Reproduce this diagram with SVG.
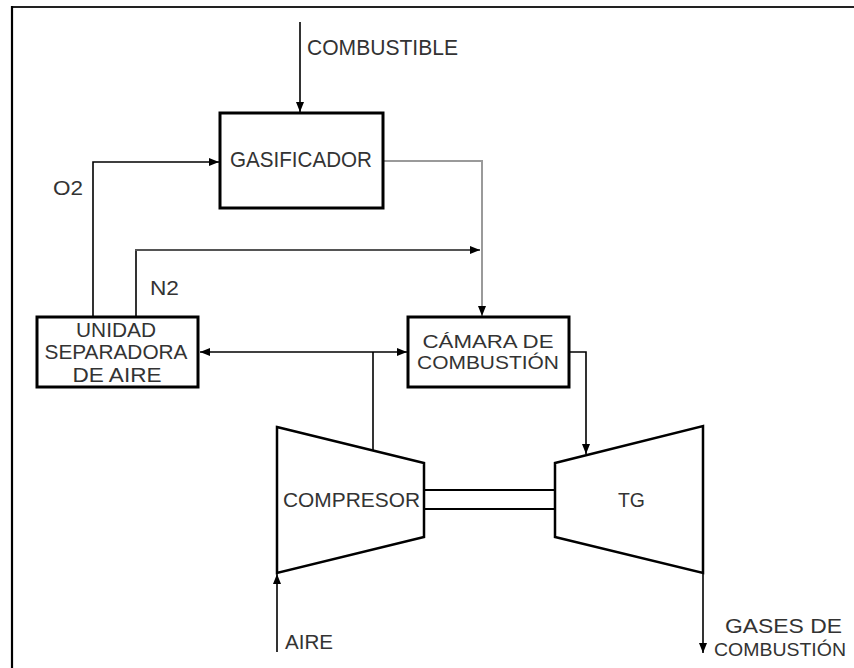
<svg xmlns="http://www.w3.org/2000/svg" width="854" height="668" viewBox="0 0 854 668">
<defs>
<marker id="ah" viewBox="0 0 10 8" refX="10" refY="4" markerWidth="10" markerHeight="8" markerUnits="userSpaceOnUse" orient="auto">
<path d="M0,0 L10,4 L0,8 Z" fill="#000"/>
</marker>
</defs>
<style>
.box{fill:#fff;stroke:#000;stroke-width:3}
.mach{fill:#fff;stroke:#000;stroke-width:2.5;stroke-linejoin:miter}
.ln{fill:none;stroke:#000;stroke-width:1.6}
.gr{fill:none;stroke:#9a9a9a;stroke-width:2}
.dg{fill:none;stroke:#555;stroke-width:1.8}
.t{font-family:"Liberation Sans",Arial,sans-serif;font-size:21px;fill:#333}
.tc{font-family:"Liberation Sans",Arial,sans-serif;font-size:21px;fill:#333;text-anchor:middle}
.big{font-size:22px}
.sm{font-size:19px}
</style>
<rect width="854" height="668" fill="#fff"/>
<g id="frame">
<line x1="11" y1="7" x2="854" y2="7" stroke="#222" stroke-width="2.2"/>
<line x1="12" y1="6" x2="12" y2="668" stroke="#000" stroke-width="2.2"/>
</g>
<g id="connectors">
<line class="ln" x1="300" y1="22" x2="300" y2="112" marker-end="url(#ah)"/>
<polyline class="ln" points="93,316 93,162 219,162" marker-end="url(#ah)"/>
<line class="ln" x1="136" y1="316" x2="136" y2="250"/>
<polyline class="dg" points="135,250 480,250" marker-end="url(#ah)"/>
<polyline class="gr" points="384,161 482,161 482,250"/>
<line x1="482" y1="250" x2="482" y2="316" stroke="#9a9a9a" stroke-width="2" marker-end="url(#ah)"/>
<line class="ln" x1="373" y1="451" x2="373" y2="352"/>
<line class="ln" x1="373" y1="352" x2="200" y2="352" marker-end="url(#ah)"/>
<line class="ln" x1="373" y1="352" x2="407" y2="352" marker-end="url(#ah)"/>
<polyline class="ln" points="570,352 586,352 586,454" marker-end="url(#ah)"/>
<line class="ln" x1="277" y1="652" x2="277" y2="574" marker-end="url(#ah)"/>
<line class="ln" x1="703" y1="573" x2="703" y2="653" marker-end="url(#ah)"/>
<line x1="424" y1="490" x2="555" y2="490" stroke="#000" stroke-width="2.2"/>
<line x1="424" y1="509" x2="555" y2="509" stroke="#000" stroke-width="2.2"/>
</g>
<g id="gasificador">
<rect class="box" x="220" y="113" width="163" height="95"/>
<text class="t big" x="230" y="167" textLength="142" lengthAdjust="spacingAndGlyphs">GASIFICADOR</text>
</g>
<g id="unidad">
<rect class="box" x="37" y="317" width="161" height="70"/>
<text class="tc" x="116" y="337" textLength="80" lengthAdjust="spacingAndGlyphs">UNIDAD</text>
<text class="tc" x="116" y="359" textLength="143" lengthAdjust="spacingAndGlyphs">SEPARADORA</text>
<text class="tc" x="117" y="382" textLength="89" lengthAdjust="spacingAndGlyphs">DE  AIRE</text>
</g>
<g id="camara">
<rect class="box" x="408" y="317" width="161" height="70"/>
<text class="tc sm" x="488" y="348" textLength="131" lengthAdjust="spacingAndGlyphs">CÁMARA  DE</text>
<text class="tc sm" x="488" y="369" textLength="142" lengthAdjust="spacingAndGlyphs">COMBUSTIÓN</text>
</g>
<g id="compresor">
<polygon class="mach" points="277,427 424,463 424,537 277,573"/>
<text class="t" x="283" y="507" textLength="137" lengthAdjust="spacingAndGlyphs">COMPRESOR</text>
</g>
<g id="tg">
<polygon class="mach" points="555,463 703,426 703,573 555,537"/>
<text class="t" x="618" y="507" textLength="27" lengthAdjust="spacingAndGlyphs">TG</text>
</g>
<g id="labels">
<text class="t big" x="307" y="55" textLength="151" lengthAdjust="spacingAndGlyphs">COMBUSTIBLE</text>
<text class="t" x="53" y="195" textLength="30" lengthAdjust="spacingAndGlyphs">O2</text>
<text class="t" x="150" y="295" textLength="29" lengthAdjust="spacingAndGlyphs">N2</text>
<text class="t" x="285" y="649" textLength="48" lengthAdjust="spacingAndGlyphs">AIRE</text>
<text class="t" x="725" y="633" textLength="117" lengthAdjust="spacingAndGlyphs">GASES  DE</text>
<text class="t sm" x="714" y="656" textLength="132" lengthAdjust="spacingAndGlyphs">COMBUSTIÓN</text>
</g>
</svg>
